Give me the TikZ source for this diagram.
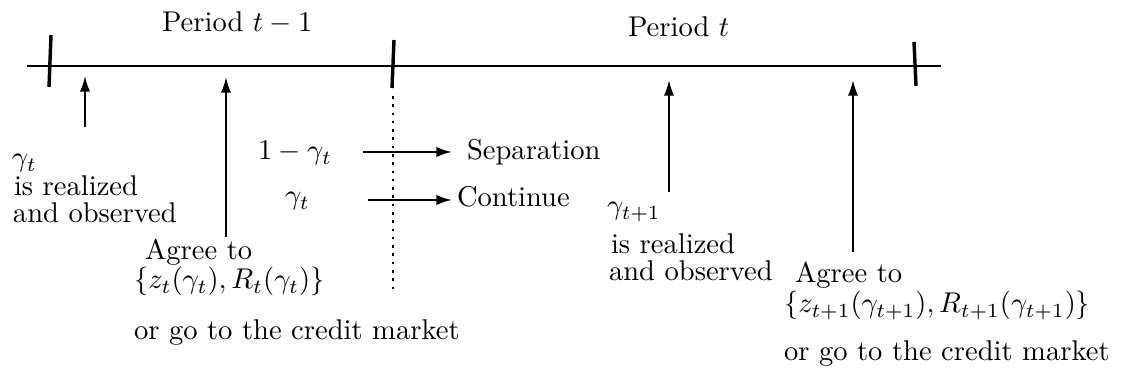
\documentclass[tikz,border=0pt]{standalone}
\usetikzlibrary{arrows.meta}
\begin{document}
\begin{tikzpicture}[x=0.35pt,y=-0.35pt,
  axis/.style={line width=1pt},
  tick/.style={line width=1.2pt},
  uparrow/.style={line width=0.7pt,-{Latex[length=5.5pt,width=3.6pt]}},
  txt/.style={anchor=base west,inner sep=0pt,outer sep=0pt},
  dotline/.style={line width=0.9pt,dash pattern=on 0.9pt off 2pt}]
\useasboundingbox (0,0) rectangle (1135,381);
% timeline
\coordinate (L0) at (27,66);
\coordinate (L1) at (941,66);
\draw[axis] (L0) -- (L1);
\coordinate (t1a) at (51,35); \coordinate (t1b) at (49,87);
\coordinate (t2a) at (394,40); \coordinate (t2b) at (392,88);
\coordinate (t3a) at (914,42); \coordinate (t3b) at (916,86);
\draw[tick] (t1a) -- (t1b);
\draw[tick] (t2a) -- (t2b);
\draw[tick] (t3a) -- (t3b);
% period labels
\node[txt] (p1) at (162,32) {Period $t-1$};
\node[txt] (p2) at (628,37) {Period $t$};
% vertical arrows
\coordinate (a1s) at (85,127); \coordinate (a1e) at (85,76);
\coordinate (a2s) at (226,237); \coordinate (a2e) at (226,77);
\coordinate (a3s) at (669,192); \coordinate (a3e) at (669,80);
\coordinate (a4s) at (853,252); \coordinate (a4e) at (853,80);
\draw[uparrow] (a1s) -- (a1e);
\draw[uparrow] (a2s) -- (a2e);
\draw[uparrow] (a3s) -- (a3e);
\draw[uparrow] (a4s) -- (a4e);
% dotted separator
\coordinate (d0) at (393,96); \coordinate (d1) at (393,293);
\draw[dotline] (d0) -- (d1);
% left block
\node[txt] (g1) at (12,167) {$\gamma_t$};
\node[txt] (r1) at (14,196) {is realized};
\node[txt] (o1) at (13,223) {and observed};
\node[txt] (ag1) at (145,260) {Agree to};
\node[txt] (z1) at (134,289) {$\{z_t(\gamma_t),R_t(\gamma_t)\}$};
\node[txt] (cm1) at (134,340) {or go to the credit market};
% separation / continue
\node[txt] (sg) at (258,160) {$1-\gamma_t$};
\node[txt] (cg) at (285,205) {$\gamma_t$};
\node[txt] (sep) at (467,160) {Separation};
\node[txt] (con) at (457,207) {Continue};
\coordinate (s0) at (363,152); \coordinate (s1) at (452,152);
\coordinate (c0) at (368,200); \coordinate (c1) at (452,200);
\draw[uparrow] (s0) -- (s1);
\draw[uparrow] (c0) -- (c1);
% right blocks
\node[txt] (g2) at (607,215) {$\gamma_{t+1}$};
\node[txt] (r2) at (611,254) {is realized};
\node[txt] (o2) at (609,281) {and observed};
\node[txt] (ag2) at (795,283) {Agree to};
\node[txt] (z2) at (784,313) {$\{z_{t+1}(\gamma_{t+1}),R_{t+1}(\gamma_{t+1})\}$};
\node[txt] (cm2) at (784,361) {or go to the credit market};
\end{tikzpicture}
\end{document}
